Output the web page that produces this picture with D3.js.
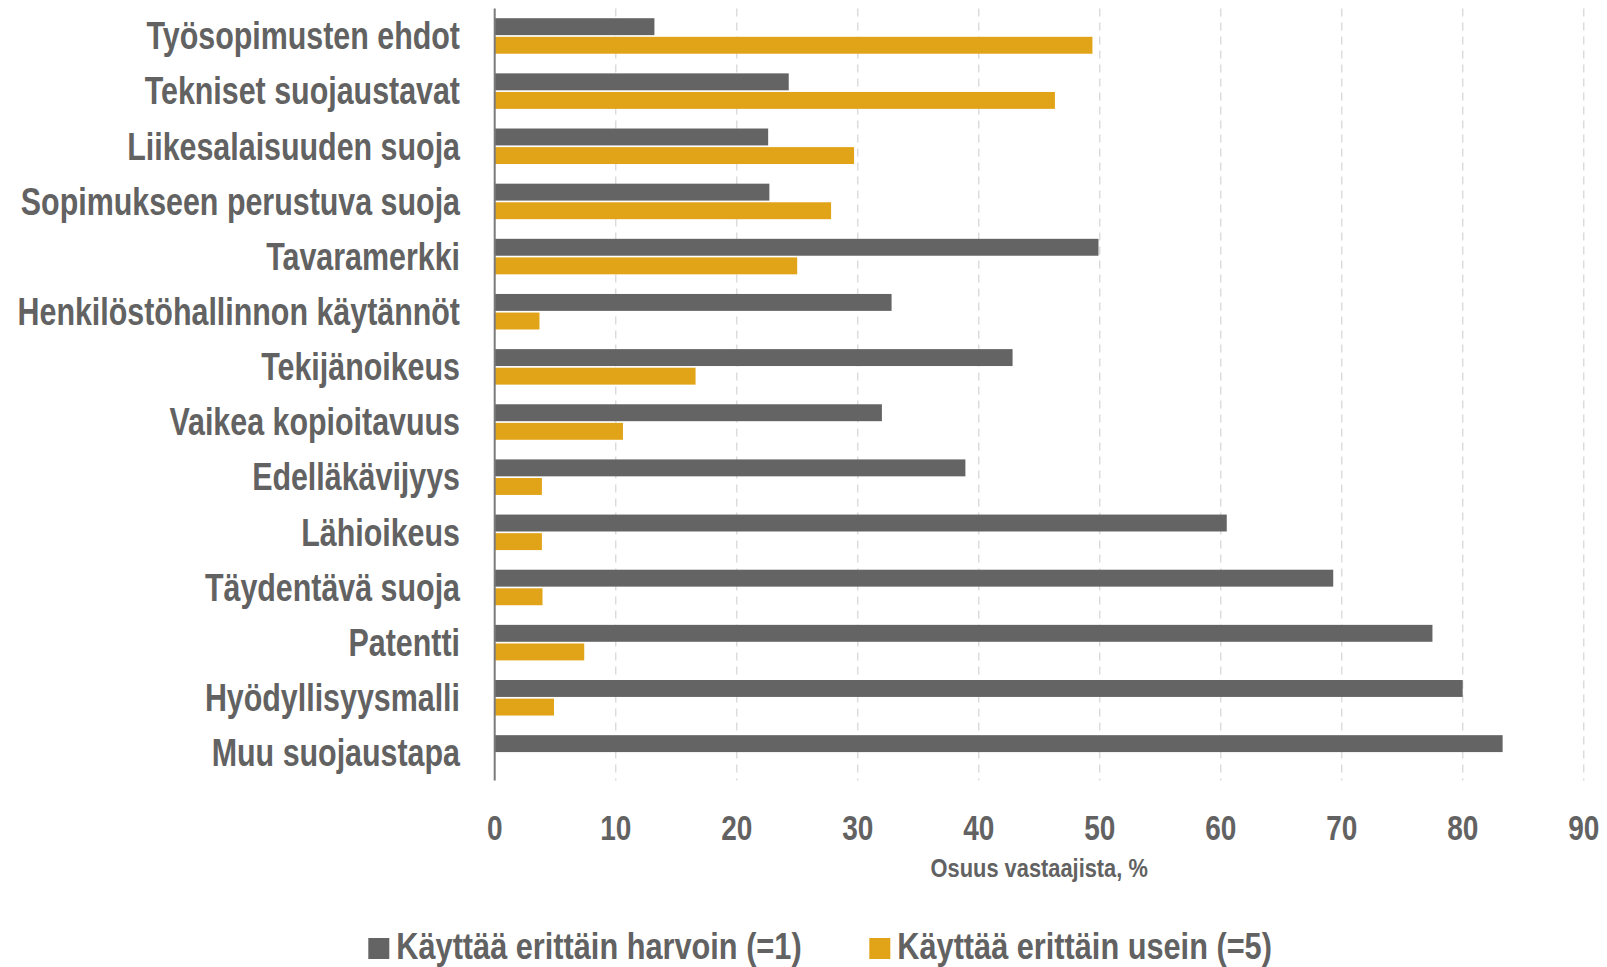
<!DOCTYPE html>
<html>
<head>
<meta charset="utf-8">
<script src="https://cdn.jsdelivr.net/npm/d3@7"></script>
<style>
  body { margin: 0; background: #fff; }
  text { font-family: "Liberation Sans", Arial, sans-serif; font-weight: bold; fill: #626262; }
</style>
</head>
<body>
<div class="chart"></div>
<script>
const categories = [
    "Työsopimusten ehdot",
    "Tekniset suojaustavat",
    "Liikesalaisuuden suoja",
    "Sopimukseen perustuva suoja",
    "Tavaramerkki",
    "Henkilöstöhallinnon käytännöt",
    "Tekijänoikeus",
    "Vaikea kopioitavuus",
    "Edelläkävijyys",
    "Lähioikeus",
    "Täydentävä suoja",
    "Patentti",
    "Hyödyllisyysmalli",
    "Muu suojaustapa"
];
const rarely = [13.2, 24.3, 22.6, 22.7, 49.9, 32.8, 42.8, 32.0, 38.9, 60.5, 69.3, 77.5, 80.0, 83.3];
const often = [49.4, 46.3, 29.7, 27.8, 25.0, 3.7, 16.6, 10.6, 3.9, 3.9, 3.95, 7.4, 4.9, 0];
const seriesNames = ["Käyttää erittäin harvoin (=1)", "Käyttää erittäin usein (=5)"];
const seriesColors = ["#646464", "#E1A418"];
const xTicks = [0, 10, 20, 30, 40, 50, 60, 70, 80, 90];
const xTitle = "Osuus vastaajista, %";

const width = 1607;
const height = 967;
const margin = {top: 8.4, right: 23.3, bottom: 186.5, left: 494.7};

const rows = categories.map((c, i) => ({cat: c, values: [rarely[i], often[i]]}));

const svg = d3.select('.chart')
    .append('svg')
    .attr('width', width)
    .attr('height', height);

const x = d3.scaleLinear()
    .domain([0, 90])
    .range([margin.left, width - margin.right]);

const y = d3.scaleBand()
    .domain(categories)
    .range([margin.top, height - margin.bottom])
    .paddingInner(0.356)
    .paddingOuter(0.178);

const ySub = d3.scaleBand()
    .domain([0, 1])
    .range([0, y.bandwidth()])
    .paddingInner(0.09);

// narrow bold text: no Arial Narrow here, so squeeze horizontally
function narrow(sel, sx) {
    return sel.attr('transform', function(d, i) {
        const px = +this.getAttribute('data-x');
        const py = +this.getAttribute('data-y');
        return `translate(${px},${py}) scale(${sx},1)`;
    });
}

// dashed gridlines
svg.append('g')
    .selectAll('line')
    .data(xTicks.filter(d => d > 0))
    .enter()
    .append('line')
    .attr('x1', d => x(d))
    .attr('x2', d => x(d))
    .attr('y1', margin.top)
    .attr('y2', height - margin.bottom)
    .attr('stroke', '#dcdcdc')
    .attr('stroke-width', 1.5)
    .attr('stroke-dasharray', '8,6');

// bars
const groups = svg.append('g')
    .selectAll('g')
    .data(rows)
    .enter()
    .append('g')
    .attr('transform', d => `translate(0,${y(d.cat)})`);

groups.selectAll('rect')
    .data(d => d.values.map((v, i) => ({v, i})))
    .enter()
    .append('rect')
    .attr('x', x(0))
    .attr('y', d => ySub(d.i))
    .attr('width', d => x(d.v) - x(0))
    .attr('height', ySub.bandwidth())
    .attr('fill', d => seriesColors[d.i]);

// y axis line
svg.append('line')
    .attr('x1', x(0))
    .attr('x2', x(0))
    .attr('y1', margin.top)
    .attr('y2', height - margin.bottom)
    .attr('stroke', '#7a7a7a')
    .attr('stroke-width', 2);

// category labels
svg.append('g')
    .selectAll('text')
    .data(categories)
    .enter()
    .append('text')
    .attr('data-x', 460)
    .attr('data-y', d => y(d) + y.bandwidth() / 2)
    .attr('dy', '0.35em')
    .attr('text-anchor', 'end')
    .attr('font-size', 38)
    .text(d => d)
    .call(narrow, 0.80);

// x tick labels
svg.append('g')
    .selectAll('text')
    .data(xTicks)
    .enter()
    .append('text')
    .attr('data-x', d => x(d))
    .attr('data-y', 840)
    .attr('text-anchor', 'middle')
    .attr('font-size', 35)
    .text(d => d)
    .call(narrow, 0.8);

svg.append('text')
    .attr('data-x', (x(0) + x(90)) / 2)
    .attr('data-y', 877)
    .attr('text-anchor', 'middle')
    .attr('font-size', 26)
    .text(xTitle)
    .call(narrow, 0.84);

// legend
const legendX = [368.3, 869.3];
const legend = svg.append('g')
    .selectAll('g')
    .data(seriesNames)
    .enter()
    .append('g')
    .attr('transform', (d, i) => `translate(${legendX[i]},938)`);
legend.append('rect')
    .attr('width', 21)
    .attr('height', 21)
    .attr('fill', (d, i) => seriesColors[i]);
legend.append('text')
    .attr('data-x', 28)
    .attr('data-y', 21)
    .attr('font-size', 37)
    .text(d => d)
    .call(narrow, 0.83);
</script>
</body>
</html>
